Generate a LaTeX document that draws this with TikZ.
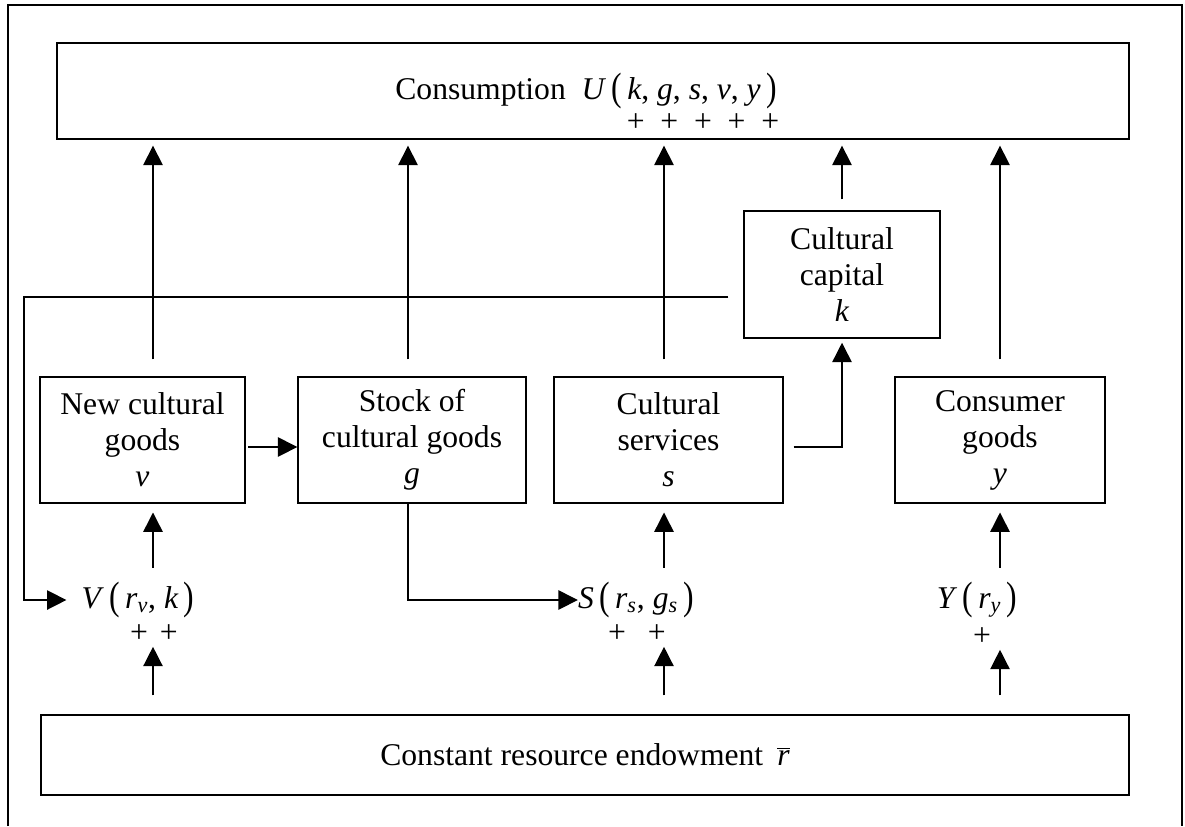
\documentclass[tikz,border=0pt]{standalone}
\usepackage{fontspec}
\setmainfont{Liberation Serif}
\usetikzlibrary{arrows.meta}

\newcommand{\mv}[1]{\textit{#1}}
\newcommand{\lpar}{\hspace{3pt}\raisebox{-.04em}{\scalebox{1}[1.25]{(}}\hspace{3pt}}
\newcommand{\rpar}{\hspace{3pt}\raisebox{-.04em}{\scalebox{1}[1.25]{)}}}

\tikzset{
	box/.style={draw,line width=.8pt,inner sep=0pt,align=center},
	lab/.style={inner sep=0pt},
	arr/.style={line width=.8pt,-{Triangle[length=11pt,width=11pt]}},
	ln/.style={line width=.8pt}
}

\begin{document}
\begin{tikzpicture}[x=0.02cm,y=-0.02cm,font=\fontsize{18}{20.5}\selectfont]
		\useasboundingbox (0,0) rectangle (1185,826);
		\draw[ln](8,826)--(8,5)--(1182,5)--(1182,826);
		% boxes
		\node[box,minimum width=21.44cm,minimum height=1.92cm](cons)at(593,91){\hspace{-8pt}Consumption\hspace{9pt}\mv{U}\lpar\mv{k}, \mv{g}, \mv{s}, \mv{v}, \mv{y}\rpar};
		\node[lab](plusu)at(703,123){+\hspace{9pt}+\hspace{9pt}+\hspace{9pt}+\hspace{9pt}+};
		\node[box,minimum width=3.92cm,minimum height=2.54cm](capital)at(842,274.5){Cultural\\capital\\\mv{k}};
		\node[box,minimum width=4.1cm,minimum height=2.52cm](newg)at(142.5,440){New cultural\\goods\\\mv{v}};
		\node[box,minimum width=4.56cm,minimum height=2.52cm](stock)at(412,440){Stock of\\cultural goods\\\mv{g}};
		\node[box,minimum width=4.58cm,minimum height=2.52cm](serv)at(668.5,440){Cultural\\services\\\mv{s}};
		\node[box,minimum width=4.2cm,minimum height=2.52cm](goods)at(1000,440){Consumer\\goods\\\mv{y}};
		\node[box,minimum width=21.76cm,minimum height=1.6cm](endow)at(585,755){Constant resource endowment\hspace{8pt}$\overline{\mbox{\mv{r}}}$};
		% production functions
		\node[lab](vfun)at(138,600){\mv{V}\lpar\mv{r}\textsubscript{\mv{v}}, \mv{k}\rpar};
		\node[lab](sfun)at(636,600){\mv{S}\lpar\mv{r}\textsubscript{\mv{s}}, \mv{g}\textsubscript{\mv{s}}\rpar};
		\node[lab](yfun)at(977,600){\mv{Y}\lpar\mv{r}\textsubscript{\mv{y}}\rpar};
		\node[lab](vplus)at(154,634){+\hspace{6.8pt}+};
		\node[lab](splus)at(637,634){+\hspace{12.5pt}+};
		\node[lab](yplus)at(982,637){+};
		% columns of the arrows
		\coordinate(c1)at(153,0);
		\coordinate(c2)at(408,0);
		\coordinate(c3)at(664,0);
		\coordinate(c4)at(842,0);
		\coordinate(c5)at(1000,0);
		\coordinate(sk)at(842,447);
		\coordinate(fb)at(24,297);
		% into consumption
		\draw[arr,shorten <=9.6pt,shorten >=3.4pt](newg.north-|c1)--(cons.south-|c1);
		\draw[arr,shorten <=9.6pt,shorten >=3.4pt](stock.north-|c2)--(cons.south-|c2);
		\draw[arr,shorten <=9.6pt,shorten >=3.4pt](serv.north-|c3)--(cons.south-|c3);
		\draw[arr,shorten <=6.2pt,shorten >=3.4pt](capital.north-|c4)--(cons.south-|c4);
		\draw[arr,shorten <=9.6pt,shorten >=3.4pt](goods.north-|c5)--(cons.south-|c5);
		% between the boxes
		\draw[arr,shorten <=1.5pt](newg.east|-sk)--(stock.west|-sk);
		\draw[arr,shorten <=5.7pt,shorten >=2.3pt](serv.east|-sk)--(sk)--(capital.south);
		\draw[arr,shorten <=8.5pt,shorten >=8.5pt](capital.west|-fb)--(fb)|-(vfun.west);
		\draw[arr](stock.south-|c2)|-(sfun.west);
		% functions into goods
		\draw[arr,shorten <=8pt,shorten >=5pt](vfun.north-|c1)--(newg.south-|c1);
		\draw[arr,shorten <=8pt,shorten >=5pt](sfun.north-|c3)--(serv.south-|c3);
		\draw[arr,shorten <=8pt,shorten >=5pt](yfun.north-|c5)--(goods.south-|c5);
		% endowment
		\draw[arr,shorten <=10.8pt,shorten >=2pt](endow.north-|c1)--(vplus.south-|c1);
		\draw[arr,shorten <=10.8pt,shorten >=2pt](endow.north-|c3)--(splus.south-|c3);
		\draw[arr,shorten <=10.8pt,shorten >=2pt](endow.north-|c5)--(yplus.south-|c5);
	\end{tikzpicture}
\end{document}
